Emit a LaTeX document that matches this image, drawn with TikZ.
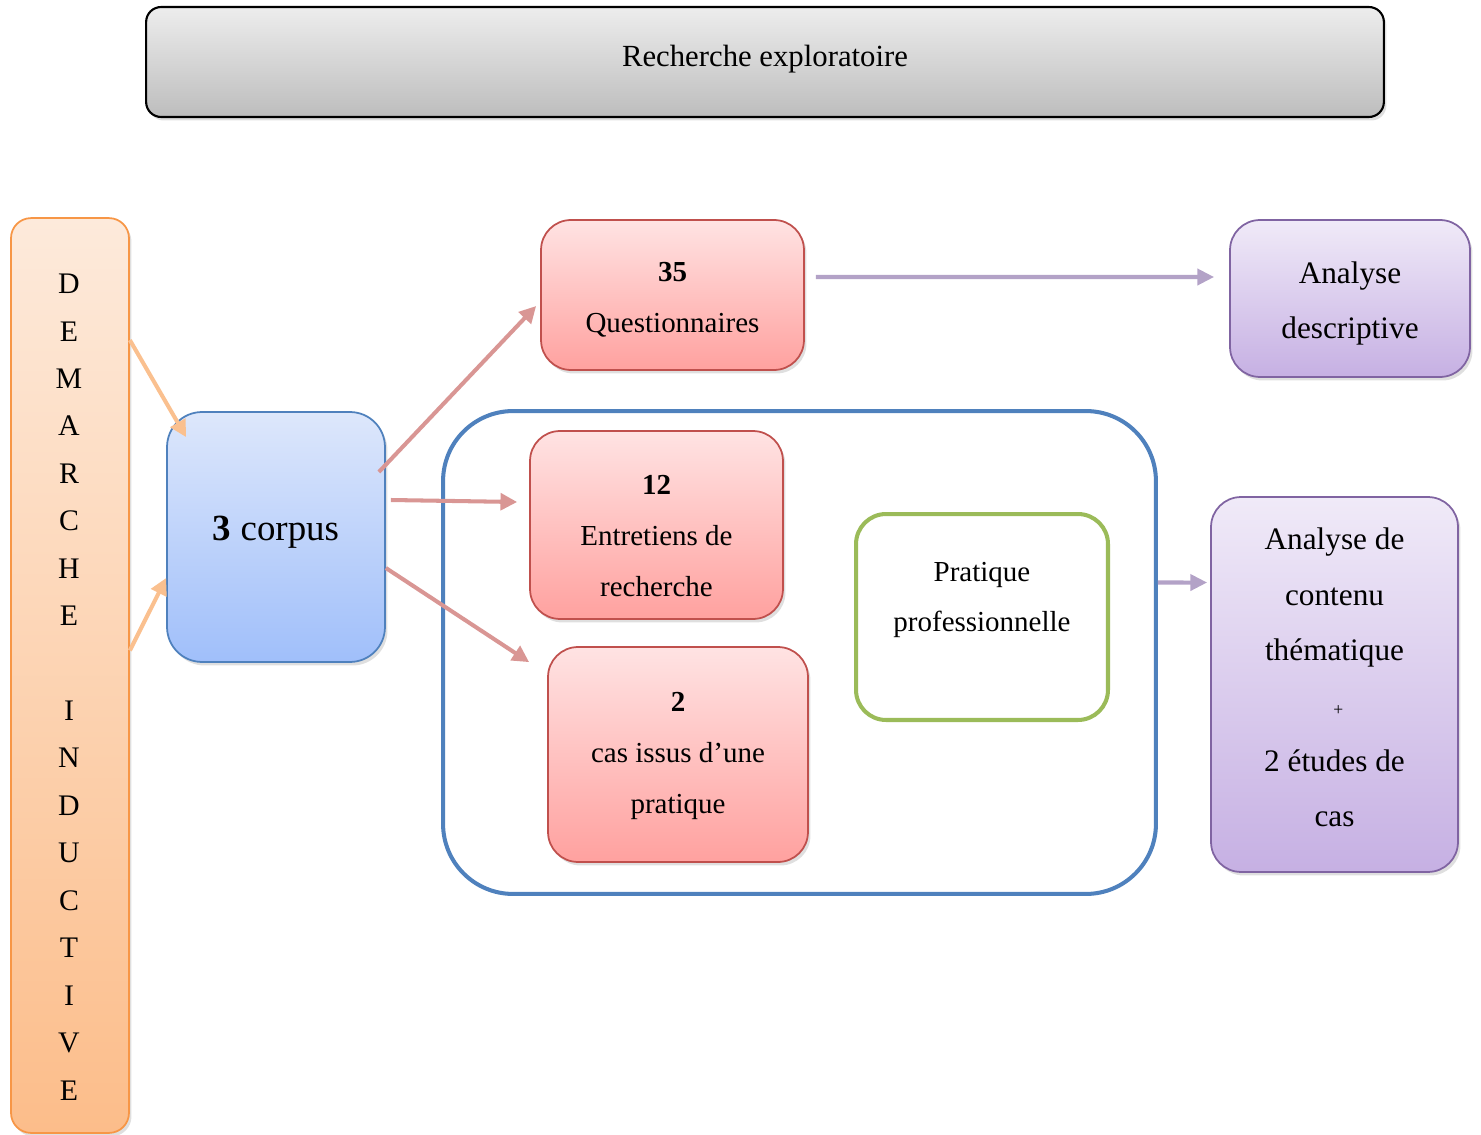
\documentclass[tikz,border=0pt]{standalone}
\usepackage{fontspec}
\setmainfont{Liberation Serif}
\usetikzlibrary{arrows.meta,shadows,positioning,calc}

\definecolor{graytop}{HTML}{EDEDED}
\definecolor{graybot}{HTML}{BDBDBD}
\definecolor{ortop}{HTML}{FDEADB}
\definecolor{orbot}{HTML}{FCBD8A}
\definecolor{orline}{HTML}{F79646}
\definecolor{orarr}{HTML}{FAC08F}
\definecolor{bltop}{HTML}{DDE7FB}
\definecolor{blbot}{HTML}{A0BFFA}
\definecolor{blline}{HTML}{4F81BD}
\definecolor{rdtop}{HTML}{FFE3E3}
\definecolor{rdbot}{HTML}{FFA19F}
\definecolor{rdline}{HTML}{C0504D}
\definecolor{rdarr}{HTML}{D99694}
\definecolor{pptop}{HTML}{F0EAF8}
\definecolor{ppbot}{HTML}{C6B0E3}
\definecolor{ppline}{HTML}{8064A2}
\definecolor{pparr}{HTML}{B3A2C7}
\definecolor{grline}{HTML}{9BBB59}

\begin{document}
\begin{tikzpicture}
[x=0.02cm, y=-0.02cm,
txt/.style={align=center, font=\fontsize{16.5}{29}\selectfont},
pptxt/.style={align=center, font=\fontsize{17.8}{31.5}\selectfont},
box/.style={rectangle, inner sep=0pt, align=center, line width=1pt, rounded corners=0.6cm,
  drop shadow={opacity=0.25, shadow xshift=0.5mm, shadow yshift=-0.7mm}},
titre/.style={box, rounded corners=0.3cm, draw=black, line width=1.2pt, top color=graytop, bottom color=graybot,
  font=\fontsize{17.5}{20}\selectfont},
orbox/.style={box, rounded corners=0.4cm, draw=orline, top color=ortop, bottom color=orbot},
blbox/.style={box, rounded corners=0.7cm, draw=blline, top color=bltop, bottom color=blbot},
rdbox/.style={box, draw=rdline, top color=rdtop, bottom color=rdbot},
ppbox/.style={box, draw=ppline, top color=pptop, bottom color=ppbot},
grbox/.style={rectangle, inner sep=0pt, draw=grline, line width=2.3pt, rounded corners=0.6cm, fill=white},
cadre/.style={rectangle, inner sep=0pt, draw=blline, line width=2.3pt, rounded corners=1.4cm},
orarrow/.style={draw=orarr, line width=2.3pt, -{Triangle[length=9.5pt,width=9.5pt]}},
rdarrow/.style={draw=rdarr, line width=2.3pt, -{Triangle[length=9.5pt,width=9.5pt]}},
pparrow/.style={draw=pparr, line width=2.3pt, -{Triangle[length=9.5pt,width=9pt]}}]

\useasboundingbox (0,0) rectangle (1481,1135);

\node[titre, minimum width=24.76cm, minimum height=2.2cm] (recherche) at (765,62) {};
\node[font=\fontsize{17.5}{20}\selectfont] (recherchetxt) at ([yshift=0.06cm]recherche.center) {Recherche exploratoire};

\node[orbox, minimum width=2.36cm, minimum height=18.3cm] (demarche) at (70,675.5) {};
\node[font=\fontsize{17}{27}\selectfont, align=center] (demarchetxt) at (69,687)
  {D\\E\\M\\A\\R\\C\\H\\E\\[27pt]I\\N\\D\\U\\C\\T\\I\\V\\E};

\node[blbox, minimum width=4.36cm, minimum height=5cm] (corpus) at (276,537) {};
\node[font=\fontsize{21}{24}\selectfont] (corpustxt) at ([yshift=0.1cm]corpus.center) {\textbf{3} corpus};

\node[cadre, minimum width=14.26cm, minimum height=9.66cm] (terrain) at (799.5,652.5) {};

\node[rdbox, minimum width=5.26cm, minimum height=3cm] (quest) at (672.5,295) {};
\node[txt] (questtxt) at ([yshift=-0.1cm]quest.center) {\textbf{35}\\Questionnaires};
\node[rdbox, minimum width=5.06cm, minimum height=3.76cm] (entretiens) at (656.5,525) {};
\node[txt] (entretienstxt) at ([yshift=-0.22cm]entretiens.center) {\textbf{12}\\Entretiens de\\recherche};
\node[rdbox, minimum width=5.2cm, minimum height=4.3cm] (cas) at (678,754.5) {};
\node[txt] (castxt) at ([yshift=-0.03cm]cas.center) {\textbf{2}\\cas issus d’une\\pratique};

\node[grbox, minimum width=5.04cm, minimum height=4.12cm] (pratique) at (982,617) {};
\node[txt] (pratiquetxt) at ([yshift=0.34cm]pratique.center) {Pratique\\professionnelle};

\node[ppbox, minimum width=4.8cm, minimum height=3.14cm] (descriptive) at (1350,298.5) {};
\node[pptxt] (descriptivetxt) at ([yshift=-0.1cm]descriptive.center) {Analyse\\descriptive};
\node[ppbox, minimum width=4.94cm, minimum height=7.5cm] (contenu) at (1334.5,684.5) {};
\node[pptxt] (contenutxt) at ([yshift=0.14cm]contenu.center)
  {Analyse de\\contenu\\thématique\\{\fontsize{10}{12}\selectfont\hspace*{0.15cm}+}\\2 études de\\cas};

\draw[orarrow] ([yshift=6.71cm]demarche.east) -- ([xshift=0.4cm,yshift=-0.52cm]corpus.north west);
\draw[orarrow] ([yshift=0.5cm]demarche.east) -- ([yshift=-0.82cm]corpus.west);

\draw[rdarrow] ([xshift=-0.14cm,yshift=1.3cm]corpus.east) -- ([xshift=-0.08cm,yshift=-0.22cm]quest.west);
\draw[rdarrow] ([xshift=0.1cm,yshift=0.74cm]corpus.east) -- ([xshift=-0.24cm,yshift=0.46cm]entretiens.west);
\draw[rdarrow] ([yshift=-0.62cm]corpus.east) -- ([xshift=-0.36cm,yshift=-0.32cm]cas.north west);

\draw[pparrow] ([xshift=0.22cm,yshift=0.36cm]quest.east) -- ([xshift=-0.3cm,yshift=0.43cm]descriptive.west);
\draw[pparrow] ([yshift=1.4cm]terrain.east) -- ([xshift=-0.06cm,yshift=2.04cm]contenu.west);
\end{tikzpicture}
\end{document}
